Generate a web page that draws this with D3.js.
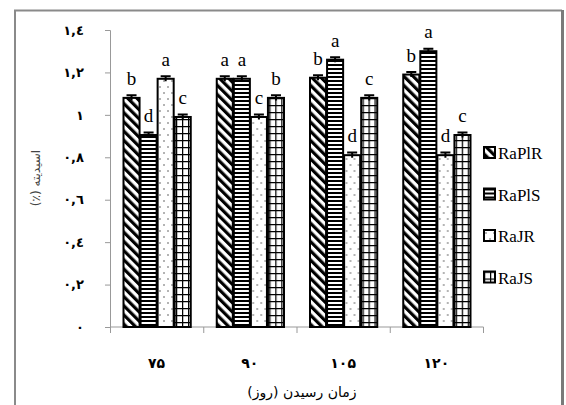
<!DOCTYPE html>
<html><head><meta charset="utf-8">
<script src="https://cdn.jsdelivr.net/npm/d3@7"></script>
<style>body{margin:0;background:#fff}svg{display:block}
.serif{font-family:"Liberation Serif","Times New Roman","DejaVu Serif",serif}</style>
</head><body>
<svg id="c" width="566" height="405"></svg>
<script>
const categories = ["۷۵", "۹۰", "۱۰۵", "۱۲۰"];
const seriesNames = ["RaPlR", "RaPlS", "RaJR", "RaJS"];
const RaPlR = [1.08, 1.17, 1.175, 1.19];
const RaPlS = [0.905, 1.17, 1.26, 1.30];
const RaJR = [1.17, 0.99, 0.81, 0.81];
const RaJS = [0.99, 1.08, 1.08, 0.905];
const errors = [0.012, 0.012, 0.012, 0.012];
const letters = [["b","d","a","c"],["a","a","c","b"],["b","a","d","c"],["b","a","d","c"]];
const yTicks = [0, 0.2, 0.4, 0.6, 0.8, 1, 1.2, 1.4];
const yTickLabels = ["٠", "٠,٢", "٠,٤", "٠,٦", "٠,٨", "١", "١,٢", "١,٤"];
const yTitle = "اسیدیته (٪)";
const xTitle = "زمان رسیدن (روز)";

const values = [RaPlR, RaPlS, RaJR, RaJS];
const svg = d3.select("#c");
const defs = svg.append("defs");

// patterns
const pDiag = defs.append("pattern").attr("id","p0").attr("patternUnits","userSpaceOnUse")
  .attr("width",6.5).attr("height",6.5).attr("patternTransform","rotate(-45)");
pDiag.append("rect").attr("width",6.5).attr("height",6.5).attr("fill","#fff");
pDiag.append("line").attr("x1",1.6).attr("x2",1.6).attr("y1",0).attr("y2",6.5).attr("stroke","#000").attr("stroke-width",3.2);

const pH = defs.append("pattern").attr("id","p1").attr("patternUnits","userSpaceOnUse").attr("width",6).attr("height",4);
pH.append("rect").attr("width",6).attr("height",4).attr("fill","#fff");
pH.append("line").attr("x1",0).attr("x2",6).attr("y1",1).attr("y2",1).attr("stroke","#000").attr("stroke-width",2);

const pD = defs.append("pattern").attr("id","p2").attr("patternUnits","userSpaceOnUse").attr("width",8).attr("height",12);
pD.append("rect").attr("width",8).attr("height",12).attr("fill","#fff");
pD.append("circle").attr("cx",2).attr("cy",3).attr("r",0.8).attr("fill","#555");
pD.append("circle").attr("cx",6).attr("cy",9).attr("r",0.8).attr("fill","#555");

const pG = defs.append("pattern").attr("id","p3").attr("patternUnits","userSpaceOnUse").attr("width",6).attr("height",7);
pG.append("rect").attr("width",6).attr("height",7).attr("fill","#fff");
pG.append("path").attr("d","M0.6,0V7M0,0.5H6").attr("stroke","#000").attr("stroke-width",1.3);

// frame
svg.append("path").attr("d","M15,405V10.5H562").attr("fill","none").attr("stroke","#8a8a8a").attr("stroke-width",2);
svg.append("line").attr("x1",562.5).attr("x2",562.5).attr("y1",10).attr("y2",405).attr("stroke","#7a7a7a").attr("stroke-width",3);

const x0 = d3.scaleBand().domain(categories).range([110, 483]).paddingInner(0).paddingOuter(0);
const x1 = d3.scaleBand().domain(seriesNames).range([13, x0.bandwidth()-12]);
const y = d3.scaleLinear().domain([0, 1.4]).range([327, 30]);

// axes
const yAxis = svg.append("g").attr("transform","translate(110,0)")
  .call(d3.axisLeft(y).tickValues(yTicks).tickSize(5).tickFormat((d,i)=>yTickLabels[i]));
yAxis.select(".domain").attr("stroke","#999").attr("d","M-5,30.5H0.5V327.5");
yAxis.selectAll(".tick line").attr("stroke","#999");
yAxis.selectAll(".tick text").attr("x",-26).attr("font-family","DejaVu Sans").attr("font-weight","bold").attr("font-size",13).attr("fill","#000");

const xAxis = svg.append("g").attr("transform","translate(0,327)")
  .call(d3.axisBottom(x0).tickSize(0).tickFormat(""));
xAxis.select(".domain").attr("stroke","#999").attr("d","M110.5,0H483.5");
svg.append("g").selectAll("line").data(d3.range(categories.length+1)).join("line")
  .attr("x1",i=>110.5+i*x0.bandwidth()).attr("x2",i=>110.5+i*x0.bandwidth())
  .attr("y1",327).attr("y2",333).attr("stroke","#999");
svg.append("g").selectAll("text").data(categories).join("text")
  .attr("x",d=>x0(d)+x0.bandwidth()/2).attr("y",368).attr("text-anchor","middle")
  .attr("font-family","DejaVu Sans").attr("font-weight","bold").attr("font-size",14).text(d=>d);

// bars
const groups = svg.append("g").selectAll("g").data(categories).join("g")
  .attr("transform",d=>`translate(${x0(d)},0)`);
groups.each(function(cat, ci){
  const g = d3.select(this);
  seriesNames.forEach((s, si)=>{
    const v = values[si][ci];
    const bx = x1(s), bw = x1.bandwidth();
    g.append("rect").attr("x",bx+0.5).attr("y",y(v)).attr("width",bw-1).attr("height",y(0)-y(v))
      .attr("fill",`url(#p${si})`).attr("stroke","#000").attr("stroke-width",2);
    const e = errors[ci];
    const cx = bx + bw/2;
    g.append("path").attr("d",`M${cx},${y(v+e)}V${y(v-e)}M${cx-5},${y(v+e)}H${cx+5}`)
      .attr("stroke","#000").attr("stroke-width",2).attr("fill","none");
    g.append("text").attr("class","serif").attr("x",cx).attr("y",y(v)-13).attr("text-anchor","middle")
      .attr("font-size",19).text(letters[ci][si]);
  });
});

// legend
const lg = svg.append("g").selectAll("g").data(seriesNames).join("g")
  .attr("transform",(d,i)=>`translate(484,${147+i*41.5})`);
lg.append("rect").attr("x",0).attr("y",0).attr("width",11).attr("height",11)
  .attr("fill",(d,i)=>`url(#p${i})`).attr("stroke","#000").attr("stroke-width",2);
lg.append("text").attr("class","serif").attr("x",14).attr("y",12).attr("font-size",17).text(d=>d);

// titles
svg.append("text").attr("transform","translate(40,178) rotate(-90)").attr("text-anchor","middle")
  .attr("direction","rtl").attr("font-family","DejaVu Sans").attr("font-size",12).attr("fill","#444").text(yTitle);
svg.append("text").attr("x",302).attr("y",397).attr("text-anchor","middle")
  .attr("direction","rtl").attr("font-family","DejaVu Sans").attr("font-size",14).attr("fill","#000").text(xTitle);
</script>
</body></html>
